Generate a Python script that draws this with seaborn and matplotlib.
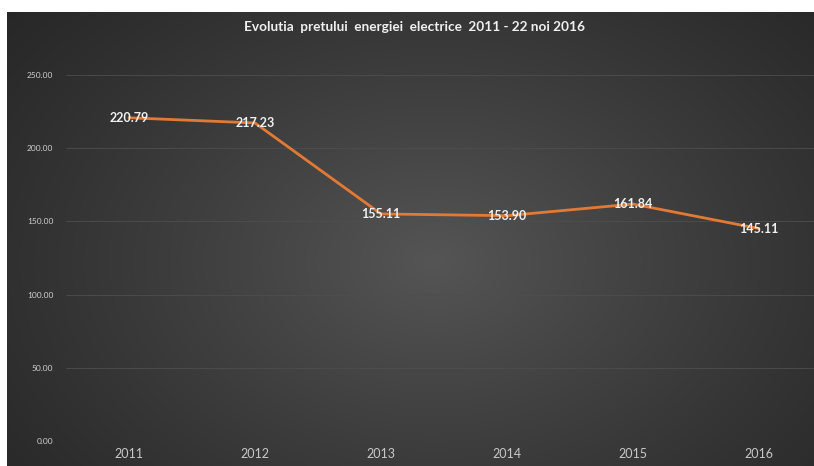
import numpy as np
import pandas as pd
import matplotlib
matplotlib.use("Agg")
import matplotlib.pyplot as plt
import seaborn as sns

# data
years = ["2011", "2012", "2013", "2014", "2015", "2016"]
prices = [220.79, 217.23, 155.11, 153.90, 161.84, 145.11]
y_ticks = [0, 50, 100, 150, 200, 250]

title = "Evolutia  pretului  energiei  electrice  2011 - 22 noi 2016"

df = pd.DataFrame({"an": years, "pret": prices})

sns.set_theme(style="dark")
plt.rcParams["font.family"] = ["Lato", "DejaVu Sans"]

W, H = 814, 466
fig = plt.figure(figsize=(W / 100, H / 100), dpi=100)
fig.patch.set_facecolor("white")

# ---------------------------------------------------------
# background panel with a radial gradient (dark edges)
# ---------------------------------------------------------
bg = fig.add_axes([7 / W, 0, 1 - 7 / W, (H - 12) / H])
gx, gy = np.meshgrid(np.linspace(0, 1, 400), np.linspace(0, 1, 240))
dist = np.sqrt(((gx - 0.53) / 0.75) ** 2 + ((gy - 0.45) / 0.95) ** 2)
shade = np.clip(1 - dist, 0, 1) ** 1.2
c_in = np.array([0x55, 0x55, 0x55]) / 255
c_out = np.array([0x25, 0x25, 0x25]) / 255
img = c_out + (c_in - c_out) * shade[..., None]
bg.imshow(img, aspect="auto", origin="lower", extent=[0, 1, 0, 1])
bg.set_axis_off()

# ---------------------------------------------------------
# main plot axes
# ---------------------------------------------------------
left, right = 66 / W, 822 / W
bottom, top = (H - 441) / H, (H - 75) / H
ax = fig.add_axes([left, bottom, right - left, top - bottom])
ax.patch.set_alpha(0)

sns.lineplot(data=df, x="an", y="pret", color="#E27A35", linewidth=2.0,
             sort=False, ax=ax)

for i, v in enumerate(prices):
    ax.text(i, v, f"{v:.2f}", ha="center", va="center", color="#f0f0f0",
            fontsize=9, fontweight="bold")

ax.set_xlim(-0.5, len(years) - 0.5)
ax.set_ylim(0, 250)
ax.set_yticks(y_ticks)
ax.set_yticklabels([f"{t:.2f}" for t in y_ticks])
ax.grid(axis="y", color="#4e4e4e", linewidth=0.6)
ax.grid(axis="x", visible=False)
ax.tick_params(axis="y", colors="#d0d0d0", labelsize=6, length=0, pad=9)
ax.tick_params(axis="x", colors="#c8c8c8", labelsize=9, length=0, pad=5)
ax.set_xlabel("")
ax.set_ylabel("")
for s in ax.spines.values():
    s.set_visible(False)

fig.text(415 / W, 1 - 27 / H, title, ha="center", va="center",
         color="#f0f0f0", fontsize=9.8, fontweight="bold")

fig.savefig("out.png", dpi=100)
